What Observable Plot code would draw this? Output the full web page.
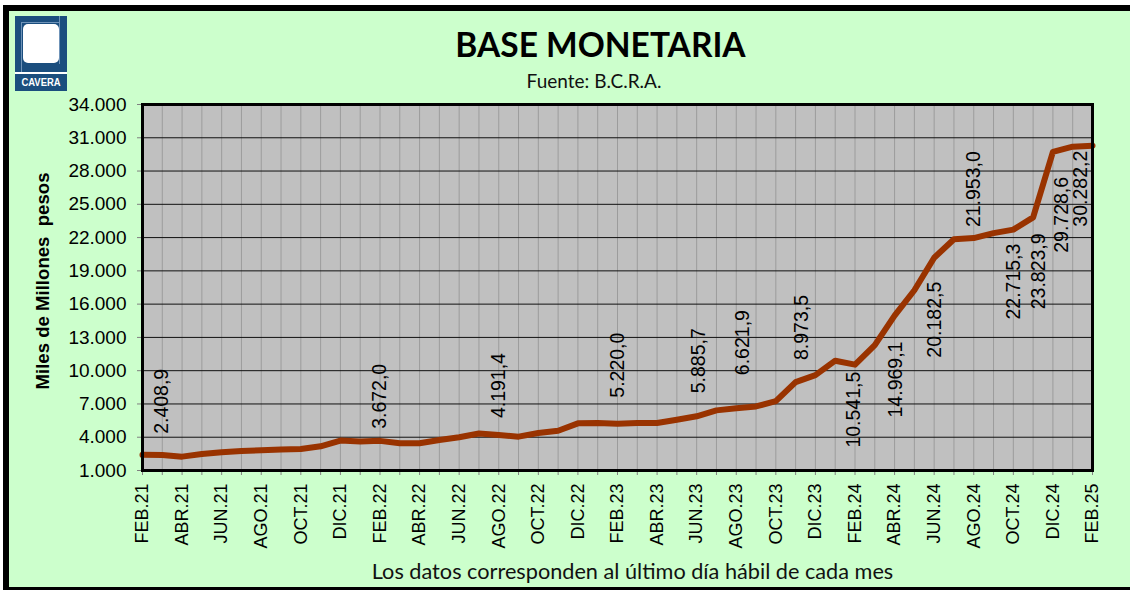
<!DOCTYPE html>
<html>
<head>
<meta charset="utf-8">
<script src="https://cdn.jsdelivr.net/npm/d3@7"></script>
<script src="https://cdn.jsdelivr.net/npm/@observablehq/plot@0.6"></script>
<style>
  html, body { margin: 0; padding: 0; background: #fff; }
  body { width: 1130px; height: 590px; overflow: hidden; position: relative; font-family: "Liberation Sans", Arial, sans-serif; }
  #panel { position: absolute; left: 3px; top: 5px; width: 1140px; height: 576px; background: #ccffcc;
           border-top: 6px solid #000; border-left: 6px solid #000; border-bottom: 3px solid #000; }
  #chart { position: absolute; left: 0; top: 0; }
  .t { position: absolute; text-align: center; line-height: 1; white-space: pre; color: #000; }
  #title { left: 400px; width: 401px; top: 28px; font-family: Lato, sans-serif; font-weight: 700; font-size: 33.5px; }
  #subtitle { left: 494px; width: 200px; top: 71px; font-family: Lato, sans-serif; font-size: 19px; color: #111; }
  #caption { left: 332px; width: 601px; top: 561px; font-family: Lato, sans-serif; font-size: 21.7px; color: #111; }
  #ylabel { left: 43px; top: 281px; transform: translate(-50%, -50%) rotate(-90deg); font-weight: 700; font-size: 18.6px; line-height: 1.15; }
  #logo { position: absolute; left: 15px; top: 16px; width: 52px; height: 75px; background: #1b4e7e; overflow: hidden; }
  #logo .sq { position: absolute; left: 8px; top: 8px; width: 36px; height: 39px; background: #fff; border-radius: 5px; }
  #logo .ln { position: absolute; background: #6f93b8; }
  #logo .sep { position: absolute; left: 0; top: 56px; width: 52px; height: 1.5px; background: #fff; }
  #logo .name { position: absolute; left: 0; top: 60px; width: 52px; text-align: center; color: #fff; font-weight: 700;
                font-size: 11.5px; line-height: 13px; transform: scaleX(0.82); }
</style>
</head>
<body>
<div id="panel"></div>
<div id="logo">
  <div class="ln" style="left:6px;top:6px;width:1px;height:50px"></div>
  <div class="ln" style="left:6px;top:6px;width:38px;height:1px"></div>
  <div class="ln" style="left:44px;top:0;width:1px;height:48px"></div>
  <div class="sq"></div>
  <div class="sep"></div>
  <div class="name">CAVERA</div>
</div>
<div class="t" id="title">BASE MONETARIA</div>
<div class="t" id="subtitle">Fuente: B.C.R.A.</div>
<div class="t" id="ylabel">Miles de Millones  pesos</div>
<div class="t" id="caption">Los datos corresponden al último día hábil de cada mes</div>
<div id="chart"></div>
<script>
// ---- Data ----
const months = [
  "FEB.21","MAR.21","ABR.21","MAY.21","JUN.21","JUL.21","AGO.21","SEP.21","OCT.21","NOV.21","DIC.21","ENE.22",
  "FEB.22","MAR.22","ABR.22","MAY.22","JUN.22","JUL.22","AGO.22","SEP.22","OCT.22","NOV.22","DIC.22","ENE.23",
  "FEB.23","MAR.23","ABR.23","MAY.23","JUN.23","JUL.23","AGO.23","SEP.23","OCT.23","NOV.23","DIC.23","ENE.24",
  "FEB.24","MAR.24","ABR.24","MAY.24","JUN.24","JUL.24","AGO.24","SEP.24","OCT.24","NOV.24","DIC.24","ENE.25",
  "FEB.25"
];
const baseMonetaria = [
  2408.9, 2400, 2250, 2480, 2650, 2750, 2820, 2900, 2930, 3180, 3700, 3620,
  3672.0, 3450, 3460, 3750, 4000, 4330, 4191.4, 4050, 4380, 4580, 5250, 5290,
  5220.0, 5280, 5290, 5580, 5885.7, 6420, 6621.9, 6780, 7250, 8973.5, 9600, 10900,
  10541.5, 12300, 14969.1, 17250, 20182.5, 21850, 21953.0, 22400, 22715.3, 23823.9, 29728.6, 30200,
  30282.2
];
const labelledMonths = ["FEB.21","FEB.22","AGO.22","FEB.23","JUN.23","AGO.23","NOV.23","FEB.24","ABR.24","JUN.24","AGO.24","OCT.24","NOV.24","DIC.24","FEB.25"];
const yTicks = [1000, 4000, 7000, 10000, 13000, 16000, 19000, 22000, 25000, 28000, 31000, 34000];
const xTickLabels = months.filter((m, i) => i % 2 === 0);

// ---- Style: placement of each value label (side, gap px, horizontal shift px) ----
const labelStyle = [
  ["above", 21, 19], ["above", 12, 0], ["above", 17, 0], ["above", 26, 0], ["above", 23, 2],
  ["above", 33, 6], ["above", 22, 6], ["below", 7, -1], ["below", 26, 1], ["below", 24, 1],
  ["above", 11, 0], ["below", 14, 0], ["below", 16, 6], ["below", 25, 9], ["below", 5, -12]
];

const loc = d3.formatLocale({decimal: ",", thousands: ".", grouping: [3], currency: ["$", ""]});
const fmtInt = loc.format(",.0f");
const fmt1 = loc.format(",.1f");

const data = months.map((m, i) => ({month: m, value: baseMonetaria[i]}));

const labelMarks = labelledMonths.map((m, k) => {
  const d = data.find(r => r.month === m);
  const [side, gap, shift] = labelStyle[k];
  return Plot.text([d], {
    x: "month", y: "value", text: r => fmt1(r.value),
    rotate: -90,
    textAnchor: side === "above" ? "start" : "end",
    dx: shift, dy: side === "above" ? -gap : gap,
    fontSize: 19.5, fill: "#000", fontFamily: "Liberation Sans, Arial, sans-serif"
  });
});

const chart = Plot.plot({
  width: 1130,
  height: 590,
  marginLeft: 142,
  marginRight: 38,
  marginTop: 104,
  marginBottom: 120,
  style: {background: "transparent", fontFamily: "Liberation Sans, Arial, sans-serif", fontSize: "18px", color: "#000"},
  x: {type: "point", domain: months, padding: 0, label: null},
  y: {domain: [1000, 34000], label: null},
  marks: [
    Plot.frame({fill: "#c0c0c0"}),
    Plot.ruleX(months, {x: d => d, stroke: "#9c9c9c", strokeWidth: 1}),
    Plot.ruleY(yTicks, {y: d => d, stroke: "#111", strokeWidth: 1}),
    Plot.axisX({ticks: months, tickSize: 5, stroke: "#808080", tickFormat: () => ""}),
    Plot.axisX({ticks: xTickLabels, tickSize: 0, tickPadding: 13, tickRotate: -90, fontSize: 18, fill: "#000", tickFormat: d => d}),
    Plot.axisY({ticks: yTicks, tickSize: 5, tickPadding: 11, stroke: "#808080", fill: "#000", fontSize: 19, tickFormat: d => fmtInt(d)}),
    Plot.line(data, {x: "month", y: "value", stroke: "#993300", strokeWidth: 6, strokeLinejoin: "round"}),
    Plot.frame({stroke: "#000", strokeWidth: 3}),
    ...labelMarks
  ]
});
document.getElementById("chart").appendChild(chart);
</script>
</body>
</html>
